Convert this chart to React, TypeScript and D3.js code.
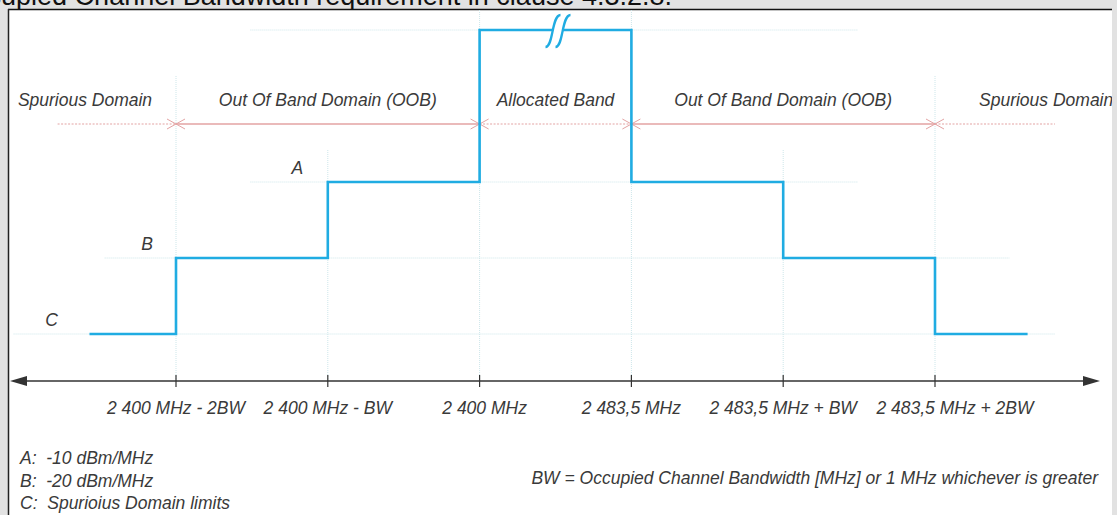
import React from "react";
import * as d3 from "d3";

// tick positions are slot indexes on the frequency axis
const tickLabels = [
  "2 400 MHz - 2BW",
  "2 400 MHz - BW",
  "2 400 MHz",
  "2 483,5 MHz",
  "2 483,5 MHz + BW",
  "2 483,5 MHz + 2BW",
];

// mask levels (dBm/MHz, C and the peak are nominal, peak sits above an axis break)
const levelNames = ["C", "B", "A"];
const levelValues = [-30, -20, -10];
const peakValue = 10;

// step mask: [from slot, to slot, level]
const maskSteps: [number, number, number][] = [
  [-0.57, 0, -30],
  [0, 1, -20],
  [1, 2, -10],
  [2, 3, 10],
  [3, 4, -10],
  [4, 5, -20],
  [5, 5.61, -30],
];

// domains: [from slot, to slot, label, dotted]
const domains: [number, number, string, boolean][] = [
  [-0.78, 0, "Spurious Domain", true],
  [0, 2, "Out Of Band Domain (OOB)", false],
  [2, 3, "Allocated Band", true],
  [3, 5, "Out Of Band Domain (OOB)", false],
  [5, 5.79, "Spurious Domain", true],
];

const notes = ["A:  -10 dBm/MHz", "B:  -20 dBm/MHz", "C:  Spurioius Domain limits"];
const bwNote = "BW = Occupied Channel Bandwidth [MHz] or 1 MHz whichever is greater";
const title = "Occupied Channel Bandwidth requirement in clause 4.3.2.8.";

const W = 1117;
const H = 515;
const BLUE = "#20ace2";
const GRID = "#cde6ea";
const PINK = "#e3a3a3";
const TXT = "#3a3a3a";
const FONT = "'Liberation Sans', Arial, sans-serif";

export default function App() {
  const x = d3.scaleLinear().domain([0, 5]).range([176, 935]);
  const y = d3.scaleLinear().domain([-30, 10]).range([334, 30]);
  const axisY = 381;

  const pts: [number, number][] = [];
  maskSteps.forEach(([a, b, v]) => {
    pts.push([x(a), y(v)]);
    pts.push([x(b), y(v)]);
  });
  const line = d3.line();

  // guide extents for the level dotted lines
  const guides: [number, number, number][] = [
    [-1.07, 5.79, -30],
    [-0.47, 5.49, -20],
    [0.49, 4.49, -10],
    [0.49, 4.49, 10],
  ];
  const labelSlots = [-0.82, -0.19, 0.8];

  const chevron = (px: number, py: number, dir: number) =>
    `M${px - dir * 9},${py - 5}L${px},${py}L${px - dir * 9},${py + 5}`;

  const peakY = y(peakValue);
  const bx = (x(2) + x(3)) / 2 - 6;
  const italic = {
    fontFamily: FONT,
    fontStyle: "italic",
    fontSize: 17.5,
    fill: TXT,
  } as const;

  return (
    <div style={{ position: "absolute", left: 0, top: 0 }}>
      <svg width={W} height={H} style={{ display: "block" }}>
        <rect x={0} y={0} width={W} height={H} fill="#e2e2e2" />
        <text x={672} y={5} textAnchor="end" fontFamily={FONT} fontSize={27} fill="#111">
          {title}
        </text>
        <defs>
          <clipPath id="panel">
            <rect x={8} y={9} width={1104} height={H - 9} />
          </clipPath>
        </defs>
        <rect x={8} y={9} width={1104} height={H - 9} fill="#fff" />
        <line x1={8} x2={1112} y1={9.5} y2={9.5} stroke="#111" strokeWidth={1.5} />
        <line x1={8.5} x2={8.5} y1={9} y2={H} stroke="#222" strokeWidth={1.5} />

        <g clipPath="url(#panel)">
          {/* vertical guides */}
          {tickLabels.map((_, i) => (
            <line
              key={i}
              x1={x(i)}
              x2={x(i)}
              y1={i === 2 || i === 3 ? 10 : i === 0 || i === 5 ? 76 : 150}
              y2={axisY}
              stroke={GRID}
              strokeDasharray="1,1"
            />
          ))}
          {/* level guides */}
          {guides.map(([a, b, v], i) => (
            <line key={i} x1={x(a)} x2={x(b)} y1={y(v)} y2={y(v)} stroke={GRID} strokeDasharray="1,1" />
          ))}

          {/* domain labels and arrows */}
          {domains.map(([a, b, label, dotted], i) => {
            const cx = (x(a) + x(b)) / 2;
            const first = i === 0;
            const last = i === domains.length - 1;
            const tx = first ? 85 : last ? x(5) + 44 : cx;
            return (
              <g key={i}>
                <text x={tx} y={106} textAnchor={last ? "start" : "middle"} {...italic}>
                  {label}
                </text>
                <line
                  x1={x(a)}
                  x2={x(b)}
                  y1={124}
                  y2={124}
                  stroke={PINK}
                  strokeWidth={dotted ? 1 : 1.3}
                  strokeDasharray={dotted ? "2,1.5" : undefined}
                />
                {!first && <path d={chevron(x(a), 124, -1)} fill="none" stroke={PINK} strokeWidth={1} />}
                {!last && <path d={chevron(x(b), 124, 1)} fill="none" stroke={PINK} strokeWidth={1} />}
              </g>
            );
          })}

          {/* level letters */}
          {levelNames.map((n, i) => (
            <text key={n} x={x(labelSlots[i])} y={y(levelValues[i]) - 8} textAnchor="middle" {...italic}>
              {n}
            </text>
          ))}

          {/* mask */}
          <path d={line(pts) ?? ""} fill="none" stroke={BLUE} strokeWidth={2.6} />

          {/* axis break on the peak */}
          <path
            d={`M${bx - 4},${peakY + 17} C${bx + 4},${peakY + 17} ${bx + 2},${peakY - 15} ${bx + 11},${peakY - 15} L${bx + 21},${peakY - 15} C${bx + 12},${peakY - 15} ${bx + 14},${peakY + 17} ${bx + 6},${peakY + 17} Z`}
            fill="#fff"
          />
          <path
            d={`M${bx - 4},${peakY + 17} C${bx + 4},${peakY + 17} ${bx + 2},${peakY - 15} ${bx + 11},${peakY - 15}`}
            fill="none"
            stroke={BLUE}
            strokeWidth={2.3}
          />
          <path
            d={`M${bx + 6},${peakY + 17} C${bx + 14},${peakY + 17} ${bx + 12},${peakY - 15} ${bx + 21},${peakY - 15}`}
            fill="none"
            stroke={BLUE}
            strokeWidth={2.3}
          />

          {/* frequency axis */}
          <line x1={22} x2={1088} y1={axisY} y2={axisY} stroke="#333" strokeWidth={1.6} />
          <path d={`M10,${axisY}L27,${axisY - 5}L27,${axisY + 5}Z`} fill="#333" />
          <path d={`M1100,${axisY}L1083,${axisY - 5}L1083,${axisY + 5}Z`} fill="#333" />
          {tickLabels.map((t, i) => (
            <g key={t}>
              <line x1={x(i)} x2={x(i)} y1={axisY - 6} y2={axisY + 6} stroke="#333" strokeWidth={1.2} />
              <text
                x={x(i) + (i === 5 ? 20 : i === 2 ? 5 : 0)}
                y={414}
                textAnchor="middle"
                {...italic}
              >
                {t}
              </text>
            </g>
          ))}

          {/* notes */}
          {notes.map((n, i) => (
            <text key={n} x={20} y={464 + i * 22.5} style={{ whiteSpace: "pre" }} {...italic}>
              {n}
            </text>
          ))}
          <text x={1098} y={484} textAnchor="end" {...italic}>
            {bwNote}
          </text>
        </g>
      </svg>
    </div>
  );
}
